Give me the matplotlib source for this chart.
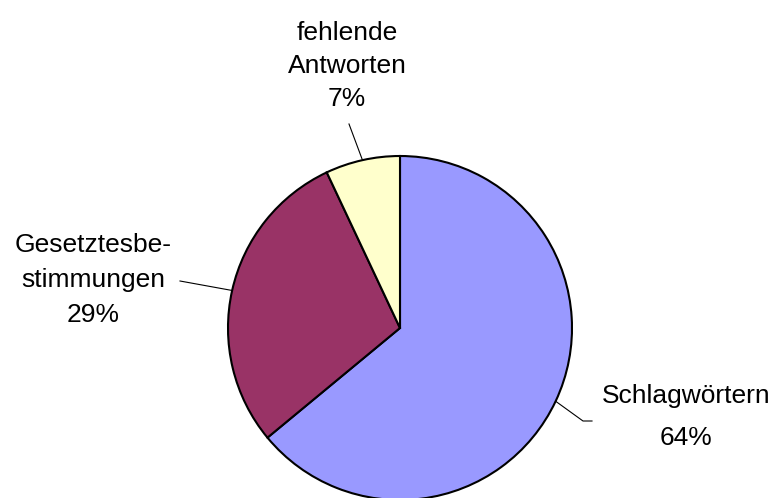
import numpy as np
import matplotlib.pyplot as plt

plt.rcParams['font.family'] = ['Liberation Sans', 'DejaVu Sans']

## Daten
labels = ['Schlagwörtern', 'Gesetztesbe-\nstimmungen', 'fehlende\nAntworten']
values = [64, 29, 7]
colors = ['#9999FF', '#993366', '#FFFFCC']

## Beschriftungspositionen (Pixel, y von oben)
label_pos = [(686, 417), (93, 280), (347, 66)]
label_ls = [1.9, 1.58, 1.45]
line_end = [[(592, 421), (583, 421)], [(180, 281)], [(349, 124)]]

W, H = 780, 498
fig = plt.figure(figsize=(W / 100, H / 100), dpi=100)
ax = fig.add_axes([0, 0, 1, 1])

cx, cy, r = 400, H - 328, 172
wedges, _ = ax.pie(values, colors=colors, startangle=90, counterclock=False,
                   center=(cx, cy), radius=r,
                   wedgeprops=dict(edgecolor='black', linewidth=1.5))
ax.set_xlim(0, W)
ax.set_ylim(0, H)
ax.set_aspect('equal')
ax.axis('off')

for w, lab, v, (tx, ty), ls, pts in zip(wedges, labels, values, label_pos, label_ls, line_end):
    ang = np.deg2rad((w.theta1 + w.theta2) / 2)
    ex, ey = cx + r * np.cos(ang), cy + r * np.sin(ang)
    xs = [p[0] for p in pts] + [ex]
    ys = [H - p[1] for p in pts] + [ey]
    ax.plot(xs, ys, color='black', lw=0.8)
    ax.text(tx, H - ty, f'{lab}\n{v}%', ha='center', va='center',
            fontsize=19, linespacing=ls, color='black')

fig.savefig('out.png', dpi=100)
